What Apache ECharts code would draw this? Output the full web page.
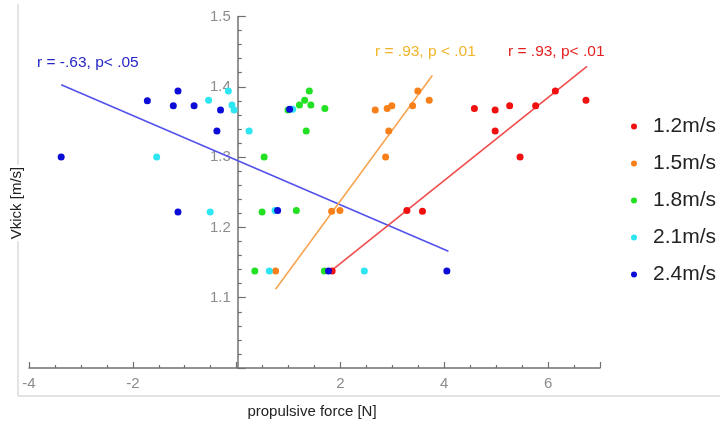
<!DOCTYPE html>
<html>
<head>
<meta charset="utf-8">
<script src="https://cdn.jsdelivr.net/npm/echarts@6/dist/echarts.min.js"></script>
<style>
  html, body { margin: 0; padding: 0; background: #fff; }
  #chart { width: 720px; height: 422px; }
</style>
</head>
<body>
<div id="chart"></div>
<script>
// speeds (legend)
var speedNames = ['1.2m/s', '1.5m/s', '1.8m/s', '2.1m/s', '2.4m/s'];
var speedColors = ['#f01010', '#f7801a', '#22e022', '#2ee6f2', '#0c0cd8'];

// [propulsive force, Vkick]
var red12 = [[4.58,1.369],[4.98,1.367],[5.26,1.373],[5.76,1.373],[6.14,1.394],[6.73,1.381],
  [4.98,1.337],[5.46,1.300],[3.28,1.224],[3.58,1.223],[1.84,1.138]];
var orange15 = [[2.67,1.367],[2.90,1.369],[2.99,1.373],[3.39,1.373],[3.49,1.394],[3.71,1.381],
  [2.93,1.337],[2.87,1.300],[1.83,1.223],[1.99,1.224],[0.75,1.138]];
var green18 = [[0.99,1.367],[1.21,1.374],[1.31,1.381],[1.40,1.394],[1.43,1.374],[1.70,1.369],
  [1.34,1.337],[0.53,1.300],[0.49,1.222],[1.15,1.224],[0.35,1.138],[1.69,1.138]];
var cyan21 = [[-1.54,1.300],[-0.54,1.381],[-0.16,1.394],[-0.09,1.374],[-0.05,1.367],[0.24,1.337],
  [1.08,1.368],[-0.51,1.222],[0.74,1.224],[0.63,1.138],[2.46,1.138]];
var blue24 = [[-3.38,1.300],[-1.72,1.380],[-1.13,1.394],[-1.22,1.373],[-0.82,1.373],[-0.31,1.367],
  [-0.38,1.337],[1.02,1.368],[-1.13,1.222],[0.79,1.224],[1.77,1.138],[4.05,1.138]];
var speedData = [red12, orange15, green18, cyan21, blue24];

// regression lines
var blueFit = [[-3.38,1.403],[4.08,1.166]];
var orangeFit = [[0.75,1.112],[3.77,1.416]];
var redFit = [[1.82,1.138],[6.75,1.429]];

var xTicks = [-4, -2, 2, 4, 6];

var chart = echarts.init(document.getElementById('chart'));
var font = 'Liberation Sans, Arial, sans-serif';
var gridLeft = 29;

var series = [];
series.push({ type: 'line', data: blueFit, symbol: 'none', silent: true,
  lineStyle: { color: '#5252ec', width: 1.6 }, z: 1 });
series.push({ type: 'line', data: orangeFit, symbol: 'none', silent: true,
  lineStyle: { color: '#f7a450', width: 1.6 }, z: 1 });
series.push({ type: 'line', data: redFit, symbol: 'none', silent: true,
  lineStyle: { color: '#f04c4c', width: 1.6 }, z: 1 });
speedNames.forEach(function (name, i) {
  series.push({
    name: name,
    type: 'scatter',
    data: speedData[i],
    symbolSize: 7,
    itemStyle: { color: speedColors[i], opacity: 1 },
    z: 3
  });
});

chart.setOption({
  animation: false,
  grid: { left: gridLeft, right: 120, top: 16.5, bottom: 54 },
  xAxis: {
    type: 'value', min: -4, max: 7, interval: 2,
    axisLine: { onZero: false, lineStyle: { color: '#707070', width: 1.5 } },
    axisTick: { inside: true, length: 6, lineStyle: { color: '#707070', width: 1.2 } },
    minorTick: { show: true, splitNumber: 4, length: 3, lineStyle: { color: '#707070', width: 1.2 } },
    axisLabel: {
      color: '#8c8c8c', fontSize: 15, fontFamily: font, margin: 8, showMaxLabel: false,
      formatter: function (v) { return xTicks.indexOf(v) >= 0 ? String(v) : ''; }
    },
    splitLine: { show: false }
  },
  yAxis: {
    type: 'value', min: 1.0, max: 1.5, interval: 0.1,
    axisLine: { onZero: false, lineStyle: { color: '#707070', width: 1.5 } },
    axisTick: { inside: true, length: 8, lineStyle: { color: '#707070', width: 1.2 } },
    minorTick: { show: true, splitNumber: 5, length: 4, lineStyle: { color: '#707070', width: 1.2 } },
    axisLabel: {
      color: '#8c8c8c', fontSize: 15, fontFamily: font, margin: 7, showMinLabel: false,
      formatter: function (v) { return v.toFixed(1); }
    },
    splitLine: { show: false }
  },
  legend: {
    data: speedNames,
    orient: 'vertical',
    left: 631, top: 116,
    padding: 0,
    icon: 'circle',
    itemWidth: 28, itemHeight: 6,
    itemGap: 16,
    textStyle: { fontSize: 21, lineHeight: 21, color: '#222', fontFamily: font }
  },
  graphic: [
    { type: 'line', shape: { x1: 18, y1: 4, x2: 18, y2: 396 },
      style: { stroke: '#c8c8c8', lineWidth: 1 }, z: 0 },
    { type: 'line', shape: { x1: 18, y1: 396, x2: 720, y2: 396 },
      style: { stroke: '#c8c8c8', lineWidth: 1 }, z: 0 },
    { type: 'text', x: 17, y: 203, rotation: Math.PI / 2,
      style: { text: 'Vkick [m/s]', fontSize: 15, fontFamily: font, fill: '#222',
        textAlign: 'center', textVerticalAlign: 'middle',
        backgroundColor: '#fff', padding: [0, 2] }, z: 5 },
    { type: 'text', x: 312, y: 412,
      style: { text: 'propulsive force [N]', fontSize: 15, fontFamily: font, fill: '#222',
        textAlign: 'center', textVerticalAlign: 'middle' } },
    { type: 'text', x: 37, y: 63,
      style: { text: 'r = -.63, p< .05', fontSize: 15.5, fontFamily: font, fill: '#2626c4',
        textAlign: 'left', textVerticalAlign: 'middle' } },
    { type: 'text', x: 375, y: 52,
      style: { text: 'r = .93, p < .01', fontSize: 15.5, fontFamily: font, fill: '#f0b428',
        textAlign: 'left', textVerticalAlign: 'middle' } },
    { type: 'text', x: 508, y: 52,
      style: { text: 'r = .93, p< .01', fontSize: 15.5, fontFamily: font, fill: '#e41e1e',
        textAlign: 'left', textVerticalAlign: 'middle' } }
  ],
  series: series
});

// move the y axis (line, ticks and labels) to x = 0
var zeroPx = chart.convertToPixel({ xAxisIndex: 0 }, 0);
chart.setOption({ yAxis: { offset: -(zeroPx - gridLeft) } });
</script>
</body>
</html>
